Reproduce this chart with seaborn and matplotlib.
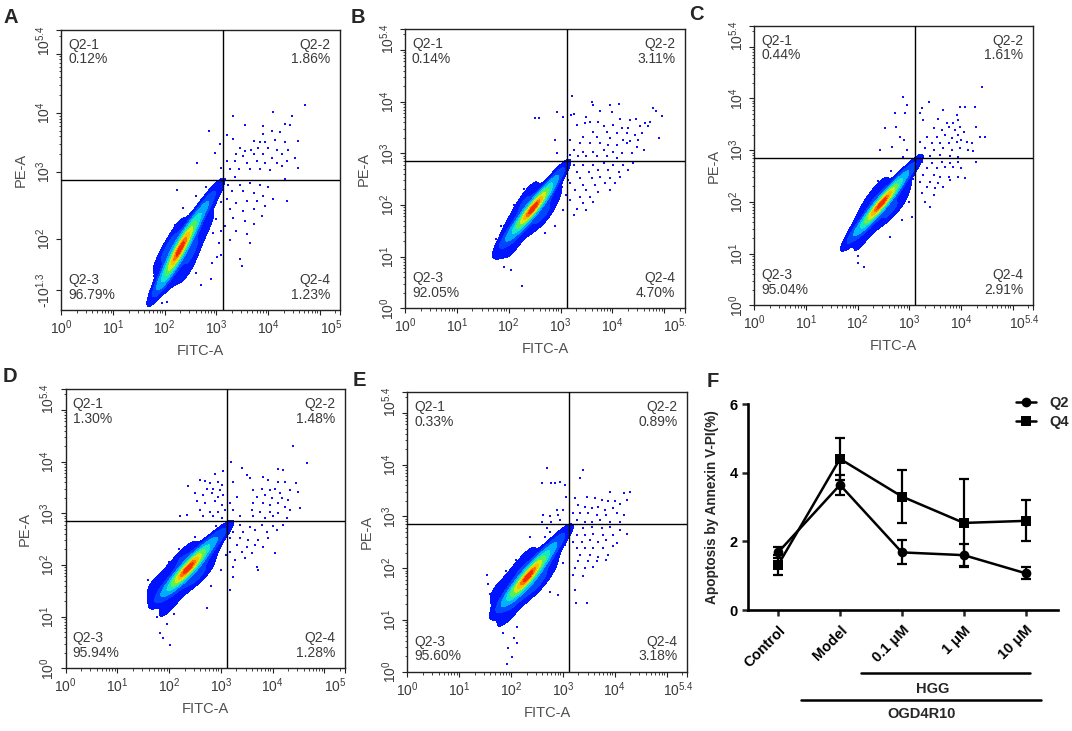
import numpy as np
import pandas as pd
import seaborn as sns
import matplotlib.pyplot as plt
from matplotlib import transforms
from matplotlib.colors import LinearSegmentedColormap
from matplotlib.lines import Line2D

sns.set_style('ticks')
plt.rcParams['font.family'] = ['Liberation Sans', 'DejaVu Sans']
plt.rcParams['mathtext.fontset'] = 'custom'
plt.rcParams['mathtext.rm'] = 'Liberation Sans'
plt.rcParams['mathtext.it'] = 'Liberation Sans:italic'
plt.rcParams['mathtext.bf'] = 'Liberation Sans:bold'

# ---- flow panels: values in log10 units ----
# core cloud (x, y, weight ~ colour density)
a_core = [(2.30, 1.70, 5), (2.35, 1.80, 4), (2.25, 1.60, 4), (2.45, 1.95, 3), (2.15, 1.45, 3),
          (2.55, 2.10, 2.5), (2.05, 1.30, 2), (2.70, 2.30, 1.5), (1.95, 1.15, 1.2), (2.80, 2.45, 1),
          (2.95, 2.60, 0.6), (1.85, 1.00, 0.6), (3.05, 2.70, 0.4), (2.50, 1.60, 1.5), (2.10, 1.75, 1.5),
          (2.70, 1.95, 0.8), (1.95, 1.55, 0.8), (2.90, 2.20, 0.4), (2.25, 2.05, 0.6), (2.45, 1.35, 0.8),
          (2.15, 1.15, 0.6)]
b_core = [(2.47, 1.94, 5), (2.40, 1.85, 4), (2.55, 2.02, 4), (2.65, 2.15, 3), (2.30, 1.75, 3),
          (2.75, 2.30, 2), (2.20, 1.60, 2), (2.90, 2.50, 1.2), (2.05, 1.45, 1.5), (3.00, 2.65, 0.6),
          (1.90, 1.30, 0.8), (1.85, 1.05, 0.4), (2.00, 0.95, 0.3), (2.60, 1.75, 1.5), (2.30, 2.05, 1.5),
          (2.15, 1.30, 1), (2.85, 2.10, 0.8), (2.40, 2.30, 0.5), (1.95, 1.60, 0.5), (2.75, 1.80, 0.5)]
c_core = [(2.46, 1.97, 5), (2.38, 1.88, 4), (2.55, 2.06, 4), (2.65, 2.20, 3), (2.28, 1.75, 3),
          (2.78, 2.35, 2), (2.15, 1.60, 2), (2.95, 2.55, 1.2), (2.00, 1.45, 1.2), (3.07, 2.68, 0.5),
          (1.88, 1.30, 0.6), (1.95, 1.00, 0.3), (2.60, 1.80, 1.5), (2.30, 2.10, 1.2), (2.15, 1.35, 0.8),
          (2.90, 2.20, 0.6), (2.45, 2.35, 0.4), (1.90, 1.60, 0.4), (2.80, 1.90, 0.5)]
d_core = [(2.37, 1.94, 5), (2.30, 1.85, 4), (2.45, 2.03, 4), (2.55, 2.15, 3), (2.20, 1.75, 3),
          (2.70, 2.30, 2), (2.05, 1.60, 2), (2.90, 2.50, 1.2), (1.90, 1.45, 1.2), (3.05, 2.65, 0.6),
          (1.75, 1.50, 0.6), (1.95, 1.10, 0.4), (1.65, 1.60, 0.3), (2.50, 1.75, 1.5), (2.20, 2.10, 1.2),
          (2.05, 1.30, 0.8), (2.80, 2.15, 0.6), (2.40, 2.35, 0.4), (1.80, 1.75, 0.4), (2.70, 1.85, 0.5)]
e_core = [(2.33, 1.84, 5), (2.25, 1.75, 4), (2.42, 1.95, 4), (2.52, 2.08, 3), (2.15, 1.62, 3),
          (2.67, 2.25, 2), (2.00, 1.50, 2), (2.85, 2.45, 1.2), (1.88, 1.35, 1.2), (3.00, 2.62, 0.6),
          (1.75, 1.50, 0.6), (1.90, 1.05, 0.5), (1.95, 0.80, 0.2), (2.45, 1.65, 1.5), (2.15, 2.00, 1.2),
          (2.05, 1.25, 0.8), (2.75, 2.05, 0.6), (2.35, 2.30, 0.4), (1.70, 1.65, 0.4), (2.65, 1.80, 0.5)]

# sparse events (x, y)
a_spray = [(4.72, 4.13), (4.10, 4.01), (4.46, 3.95), (3.32, 3.95), (3.56, 3.79), (3.91, 3.77), (4.33, 3.82),
           (4.43, 3.79), (4.07, 3.69), (3.20, 3.62), (3.91, 3.64), (4.23, 3.67), (3.33, 3.56), (3.72, 3.52),
           (3.85, 3.50), (3.94, 3.51), (4.14, 3.55), (4.33, 3.50), (4.59, 3.52), (3.07, 3.48), (3.46, 3.40),
           (3.56, 3.36), (3.68, 3.38), (3.81, 3.41), (4.01, 3.40), (4.17, 3.38), (4.39, 3.38), (2.98, 3.33),
           (3.39, 3.30), (3.52, 3.27), (3.72, 3.30), (3.91, 3.30), (4.07, 3.24), (4.27, 3.30), (4.52, 3.23),
           (3.20, 3.19), (3.36, 3.19), (3.59, 3.16), (3.78, 3.19), (3.94, 3.16), (4.17, 3.16), (4.36, 3.19),
           (4.59, 3.07), (3.10, 3.07), (3.27, 3.05), (3.43, 3.05), (3.65, 3.05), (3.85, 3.05), (4.04, 3.03),
           (4.27, 3.10), (3.36, 2.91), (3.17, 2.88), (4.33, 2.89), (3.23, 2.79), (3.46, 2.79), (3.65, 2.82),
           (3.85, 2.79), (4.01, 2.74), (3.30, 2.68), (3.52, 2.68), (3.72, 2.65), (3.91, 2.60), (4.10, 2.54),
           (4.36, 2.51), (3.20, 2.54), (3.39, 2.48), (3.59, 2.51), (3.78, 2.51), (3.94, 2.43), (3.27, 2.37),
           (3.52, 2.34), (3.72, 2.37), (3.88, 2.26), (3.33, 2.23), (3.56, 2.17), (3.72, 2.12), (3.17, 2.09),
           (3.39, 2.00), (3.59, 1.95), (3.27, 1.86), (3.65, 1.81), (3.46, 1.53), (3.49, 1.41), (2.85, 3.69),
           (2.62, 3.16), (2.23, 2.70), (2.91, 1.46), (3.01, 1.57), (2.94, 1.97), (1.85, 0.85), (1.95, 0.78),
           (2.05, 0.80), (1.75, 1.05), (1.80, 1.25), (3.10, 2.00), (3.05, 1.80), (3.10, 1.60), (2.90, 1.20),
           (2.70, 1.10), (2.60, 1.30), (1.90, 1.50), (2.05, 1.75), (2.20, 2.10), (2.35, 2.40), (2.60, 2.60),
           (2.80, 2.75), (3.08, 2.72), (3.10, 2.50), (3.00, 2.20)]
b_spray = [(3.22, 4.11), (3.60, 4.00), (3.63, 3.94), (3.95, 3.94), (4.12, 3.95), (3.76, 3.81), (3.99, 3.79),
           (3.20, 3.74), (3.25, 3.76), (2.93, 3.79), (3.05, 3.71), (3.50, 3.71), (3.57, 3.61), (3.47, 3.58),
           (3.73, 3.61), (4.15, 3.66), (4.34, 3.64), (4.46, 3.66), (4.63, 3.59), (4.73, 3.60), (4.79, 3.87),
           (4.85, 3.81), (4.95, 3.72), (3.31, 3.55), (3.83, 3.52), (4.02, 3.55), (4.18, 3.48), (4.31, 3.48),
           (4.53, 3.52), (4.69, 3.52), (3.63, 3.42), (3.89, 3.42), (4.08, 3.39), (4.28, 3.39), (4.44, 3.35),
           (4.57, 3.40), (3.44, 3.32), (3.70, 3.32), (3.95, 3.29), (4.21, 3.26), (4.34, 3.23), (4.50, 3.26),
           (4.89, 3.30), (2.89, 3.26), (3.18, 3.26), (3.38, 3.19), (3.57, 3.19), (3.76, 3.19), (3.92, 3.16),
           (4.08, 3.16), (4.28, 3.19), (4.47, 3.13), (4.60, 3.06), (3.25, 3.06), (3.44, 3.03), (3.63, 3.03),
           (3.83, 3.06), (4.02, 3.03), (4.18, 3.00), (4.37, 3.00), (2.93, 3.00), (3.18, 2.97), (3.34, 2.94),
           (3.50, 2.94), (3.70, 2.94), (3.89, 2.94), (4.08, 2.90), (3.25, 2.77), (3.44, 2.77), (3.63, 2.77),
           (3.83, 2.81), (4.02, 2.77), (4.21, 2.77), (4.40, 2.81), (3.31, 2.64), (3.54, 2.64), (3.73, 2.68),
           (3.92, 2.68), (4.12, 2.64), (4.31, 2.68), (3.38, 2.52), (3.60, 2.52), (3.76, 2.55), (3.95, 2.52),
           (4.15, 2.55), (3.18, 2.42), (3.44, 2.39), (3.67, 2.39), (3.86, 2.42), (4.05, 2.42), (3.28, 2.29),
           (3.50, 2.29), (3.73, 2.26), (3.95, 2.29), (3.38, 2.16), (3.57, 2.16), (3.18, 2.10), (3.44, 2.03),
           (3.63, 2.06), (3.31, 1.93), (3.50, 1.90), (3.25, 1.81), (2.51, 3.68), (2.58, 3.68), (2.25, 0.43),
           (1.80, 1.00), (1.90, 0.80), (2.05, 0.75), (1.75, 1.35), (1.85, 1.60), (2.10, 2.00), (2.30, 2.30),
           (3.10, 2.20), (3.05, 1.90), (2.90, 1.60), (2.70, 1.45), (3.00, 2.75), (3.05, 2.61), (3.15, 2.48),
           (3.02, 2.35)]
c_spray = [(4.40, 4.23), (3.39, 3.94), (3.24, 3.81), (3.21, 3.71), (3.65, 3.78), (3.98, 3.84), (4.08, 3.84),
           (4.27, 3.84), (3.92, 3.68), (3.56, 3.60), (3.72, 3.52), (3.85, 3.52), (3.95, 3.58), (3.27, 3.58),
           (3.47, 3.42), (3.63, 3.39), (3.76, 3.45), (3.89, 3.39), (3.98, 3.45), (4.05, 3.36), (4.30, 3.45),
           (3.53, 3.26), (3.69, 3.29), (3.82, 3.23), (3.95, 3.29), (4.01, 3.20), (4.37, 3.26), (4.47, 3.26),
           (3.34, 3.26), (3.21, 3.16), (3.43, 3.13), (3.59, 3.13), (3.76, 3.13), (3.92, 3.16), (4.11, 3.16),
           (4.21, 3.13), (3.30, 3.04), (3.47, 3.00), (3.66, 3.04), (3.82, 3.00), (3.98, 3.04), (4.14, 3.00),
           (4.24, 2.99), (3.21, 2.91), (3.40, 2.89), (3.59, 2.91), (3.79, 2.89), (3.95, 2.87), (3.24, 2.78),
           (3.43, 2.76), (3.63, 2.78), (3.79, 2.75), (3.95, 2.78), (4.30, 2.78), (3.34, 2.65), (3.53, 2.65),
           (3.69, 2.68), (3.85, 2.67), (4.01, 2.65), (3.27, 2.52), (3.47, 2.52), (3.59, 2.49), (3.76, 2.49),
           (3.95, 2.49), (4.08, 2.46), (3.21, 2.39), (3.40, 2.39), (3.56, 2.36), (3.79, 2.42), (3.34, 2.29),
           (3.50, 2.26), (3.66, 2.29), (3.24, 2.17), (3.47, 2.13), (3.30, 2.00), (3.40, 1.91), (2.95, 3.87),
           (2.92, 3.71), (2.89, 3.20), (2.95, 3.00), (2.87, 4.02), (2.72, 3.71), (2.53, 3.42), (2.75, 3.45),
           (2.82, 3.26), (2.43, 3.00), (2.66, 3.07), (2.88, 2.87), (3.06, 1.71), (2.63, 1.33), (2.13, 0.75),
           (2.01, 0.82), (1.79, 1.13), (1.85, 1.50), (1.80, 1.25), (2.00, 0.95), (2.20, 2.05), (2.40, 2.40),
           (2.65, 2.60), (3.08, 2.45), (3.00, 2.00), (2.85, 1.65)]
d_spray = [(4.66, 3.97), (3.19, 4.00), (3.40, 3.87), (4.11, 3.86), (4.21, 3.84), (3.05, 3.81), (2.89, 3.77),
           (3.50, 3.74), (3.81, 3.71), (3.24, 3.61), (3.56, 3.68), (3.92, 3.64), (4.11, 3.61), (4.24, 3.61),
           (4.45, 3.59), (2.69, 3.63), (2.79, 3.58), (2.95, 3.61), (3.02, 3.55), (2.73, 3.48), (2.85, 3.48),
           (2.98, 3.45), (3.63, 3.45), (3.79, 3.48), (3.95, 3.45), (4.05, 3.48), (4.14, 3.39), (4.34, 3.45),
           (4.50, 3.42), (2.50, 3.39), (2.66, 3.35), (2.82, 3.39), (2.95, 3.32), (3.05, 3.35), (3.31, 3.32),
           (3.69, 3.32), (3.85, 3.35), (3.98, 3.29), (4.18, 3.29), (4.30, 3.26), (2.53, 3.23), (2.69, 3.19),
           (2.89, 3.23), (3.02, 3.16), (3.18, 3.19), (3.63, 3.19), (3.82, 3.19), (3.95, 3.16), (4.11, 3.19),
           (4.24, 3.13), (4.53, 3.10), (2.60, 3.06), (2.79, 3.03), (2.95, 3.03), (3.08, 3.06), (3.24, 3.06),
           (3.60, 3.06), (3.76, 3.03), (3.95, 3.03), (4.11, 3.00), (4.34, 3.06), (2.66, 2.94), (2.85, 2.94),
           (3.02, 2.90), (3.37, 2.94), (3.63, 2.94), (3.85, 2.90), (4.01, 2.94), (4.27, 2.90), (3.21, 2.77),
           (3.37, 2.77), (3.56, 2.74), (3.79, 2.77), (4.01, 2.75), (4.21, 2.77), (3.24, 2.64), (3.43, 2.64),
           (3.66, 2.68), (3.89, 2.64), (4.08, 2.68), (3.18, 2.52), (3.37, 2.52), (3.53, 2.48), (3.72, 2.48),
           (3.92, 2.52), (3.31, 2.39), (3.50, 2.35), (3.66, 2.39), (3.82, 2.35), (3.18, 2.26), (3.40, 2.26),
           (3.60, 2.23), (4.05, 2.23), (3.27, 2.10), (3.47, 2.13), (3.24, 1.97), (3.69, 1.97), (3.72, 1.90),
           (3.24, 1.77), (3.18, 1.52), (4.40, 4.30), (2.37, 3.52), (2.60, 3.65), (2.34, 2.97), (2.21, 2.95),
           (2.73, 1.16), (1.82, 0.68), (1.89, 0.58), (2.02, 0.45), (1.76, 1.00), (1.60, 1.70), (1.65, 1.40),
           (1.75, 1.20), (1.95, 0.85), (2.10, 1.05), (2.00, 2.05), (2.20, 2.30), (2.50, 2.55), (2.90, 2.75),
           (3.10, 2.20), (3.00, 1.90), (2.80, 1.60)]
e_spray = [(2.69, 3.93), (3.38, 3.90), (3.33, 3.74), (2.59, 3.65), (2.78, 3.65), (2.85, 3.64), (2.94, 3.67),
           (3.04, 3.61), (3.91, 3.48), (4.29, 3.47), (4.17, 3.45), (3.07, 3.38), (3.23, 3.35), (3.46, 3.38),
           (3.62, 3.35), (3.75, 3.32), (3.88, 3.29), (4.01, 3.29), (4.10, 3.25), (4.23, 3.32), (3.30, 3.22),
           (3.43, 3.19), (3.56, 3.16), (3.68, 3.19), (3.81, 3.13), (3.97, 3.16), (2.88, 3.13), (3.01, 3.13),
           (2.62, 3.03), (2.75, 3.00), (2.91, 3.03), (3.20, 3.06), (3.33, 3.06), (3.49, 3.06), (3.65, 3.03),
           (3.84, 3.03), (4.04, 3.06), (4.17, 3.03), (2.59, 2.90), (2.78, 2.90), (2.94, 2.93), (3.27, 2.93),
           (3.43, 2.90), (3.56, 2.90), (3.72, 2.93), (3.91, 2.90), (4.10, 2.90), (2.69, 2.77), (3.01, 2.77),
           (3.20, 2.80), (3.39, 2.77), (3.56, 2.80), (3.75, 2.77), (3.91, 2.80), (4.23, 2.67), (4.10, 2.74),
           (3.27, 2.64), (3.43, 2.64), (3.59, 2.67), (3.78, 2.64), (3.97, 2.64), (3.20, 2.51), (3.36, 2.51),
           (3.52, 2.55), (3.68, 2.51), (3.84, 2.55), (4.04, 2.48), (3.27, 2.39), (3.43, 2.39), (3.59, 2.39),
           (3.78, 2.39), (3.97, 2.42), (3.33, 2.26), (3.52, 2.26), (3.68, 2.22), (3.88, 2.26), (3.30, 2.13),
           (3.49, 2.13), (3.65, 2.13), (3.84, 2.16), (3.23, 2.00), (3.43, 2.00), (3.59, 2.03), (3.20, 1.87),
           (3.39, 1.84), (3.23, 1.58), (2.91, 1.48), (2.66, 2.61), (2.56, 2.22), (3.46, 1.32), (3.26, 1.32),
           (2.11, 0.55), (2.01, 0.29), (1.92, 0.15), (1.53, 1.87), (1.85, 0.74), (2.11, 0.87), (2.37, 2.61),
           (1.95, 0.45), (2.05, 0.65), (1.80, 1.00), (1.60, 1.50), (1.55, 1.70), (1.90, 1.95), (2.10, 2.15),
           (2.40, 2.40), (2.75, 2.70), (3.05, 2.45), (3.00, 2.10), (2.75, 1.55)]

# quadrant gates (x, y) and percentages Q2-1, Q2-2, Q2-3, Q2-4
a_gate, b_gate, c_gate, d_gate, e_gate = (3.12, 2.86), (3.12, 2.85), (3.11, 2.84), (3.11, 2.845), (3.12, 2.855)
a_pct = ['0.12%', '1.86%', '96.79%', '1.23%']
b_pct = ['0.14%', '3.11%', '92.05%', '4.70%']
c_pct = ['0.44%', '1.61%', '95.04%', '2.91%']
d_pct = ['1.30%', '1.48%', '95.94%', '1.28%']
e_pct = ['0.33%', '0.89%', '95.60%', '3.18%']
x_end_labels = ['$10^{5}$', '$10^{5.}$', '$10^{5.4}$', '$10^{5}$', '$10^{5.4}$']

# ---- panel F ----
groups = ['Control', 'Model', '0.1 μM', '1 μM', '10 μM']
q2_mean = [1.68, 3.65, 1.68, 1.60, 1.07]
q2_err = [0.17, 0.29, 0.35, 0.33, 0.17]
q4_mean = [1.31, 4.41, 3.31, 2.54, 2.60]
q4_err = [0.29, 0.62, 0.76, 1.28, 0.60]

flow_cmap = LinearSegmentedColormap.from_list(
    'flow', ['#0000ff', '#0050ff', '#00b8ff', '#10e8d0', '#40f060', '#c0f020', '#f8e000', '#ff8000', '#f01000'])
grey_txt = '#3a3a3a'

fig = plt.figure(figsize=(10.72, 7.31), dpi=100)
W, H = 1072, 731


def px_axes(l, t, r, b):
    return fig.add_axes([l / W, 1 - b / H, (r - l) / W, (b - t) / H])


def draw_flow(ax, core, spray, gate, pct, xend, ylow=0.0, biexp=False):
    cx, cy, cw = zip(*core)
    sx, sy = zip(*spray)
    ax.scatter(sx, sy, s=4, marker='s', color='#1010ff', linewidths=0, zorder=1)
    sns.kdeplot(x=list(cx), y=list(cy), weights=list(cw), fill=True, cmap=flow_cmap,
                levels=[0.06, 0.2, 0.34, 0.48, 0.6, 0.71, 0.81, 0.89, 0.95, 1.0],
                bw_adjust=1.0, cut=6, gridsize=160, ax=ax, zorder=2)
    ax.axvline(gate[0], color='black', lw=1, zorder=3)
    ax.axhline(gate[1], color='black', lw=1, zorder=3)
    ax.set_xlim(0, 5.4)
    ax.set_ylim(ylow, 5.4)
    for s in ax.spines.values():
        s.set_linewidth(1)
        s.set_color('#222222')
    minor = [d + np.log10(k) for d in range(6) for k in range(2, 10) if d + np.log10(k) < 5.4]
    ax.set_xticks([0, 1, 2, 3, 4, 5, 5.4], ['$10^{0}$', '$10^{1}$', '$10^{2}$', '$10^{3}$', '$10^{4}$', '', ''])
    ax.set_xticks(minor, minor=True)
    if biexp:
        ax.set_yticks([1.0, 1.87, 3, 4, 5, 5.4], ['-$10^{1.3}$', '$10^{2}$', '$10^{3}$', '$10^{4}$', '', ''],
                      rotation=90, va='center')
        ax.set_yticks([m for m in minor if m > 3], minor=True)
    else:
        ax.set_yticks([0, 1, 2, 3, 4, 5, 5.4], ['$10^{0}$', '$10^{1}$', '$10^{2}$', '$10^{3}$', '$10^{4}$', '', ''],
                      rotation=90, va='center')
        ax.set_yticks(minor, minor=True)
    ax.tick_params(which='major', direction='out', length=3.6, width=0.8, pad=2.5,
                   labelsize=10, labelcolor=grey_txt, color='#222222')
    ax.tick_params(which='minor', direction='out', length=1.8, width=0.6, color='#222222')
    ax.annotate(xend, xy=(5.22, 0), xycoords=('data', 'axes fraction'), xytext=(0, -6.1),
                textcoords='offset points', ha='center', va='top', fontsize=10, color=grey_txt)
    ax.annotate('$10^{5.4}$', xy=(0, 5.22), xycoords=('axes fraction', 'data'), xytext=(-6.1, 0),
                textcoords='offset points', ha='right', va='center', rotation=90, fontsize=10, color=grey_txt)
    ax.set_xlabel('FITC-A', fontsize=10.5, color='#505050', labelpad=5)
    ax.set_ylabel('PE-A', fontsize=10.5, color='#505050', labelpad=5)
    kw = dict(transform=ax.transAxes, fontsize=10, color=grey_txt, linespacing=1.05)
    ax.text(0.025, 0.972, 'Q2-1\n' + pct[0], ha='left', va='top', **kw)
    ax.text(0.965, 0.972, 'Q2-2\n' + pct[1], ha='right', va='top', **kw)
    ax.text(0.025, 0.03, 'Q2-3\n' + pct[2], ha='left', va='bottom', **kw)
    ax.text(0.965, 0.03, 'Q2-4\n' + pct[3], ha='right', va='bottom', **kw)


axA = px_axes(61.3, 30, 340.3, 310)
axB = px_axes(405, 29.3, 685, 308.3)
axC = px_axes(754.3, 26, 1033.3, 305.3)
axD = px_axes(65.7, 389.3, 345, 668.3)
axE = px_axes(407.3, 392.3, 687.3, 671.7)
axF = px_axes(748.3, 404.3, 1058, 610)

draw_flow(axA, a_core, a_spray, a_gate, a_pct, x_end_labels[0], ylow=0.67, biexp=True)
draw_flow(axB, b_core, b_spray, b_gate, b_pct, x_end_labels[1])
draw_flow(axC, c_core, c_spray, c_gate, c_pct, x_end_labels[2])
draw_flow(axD, d_core, d_spray, d_gate, d_pct, x_end_labels[3])
draw_flow(axE, e_core, e_spray, e_gate, e_pct, x_end_labels[4])

# ---- panel F: line chart with error bars ----
pos = np.arange(len(groups))
df = pd.DataFrame({'pos': np.concatenate([pos, pos]),
                   'value': q2_mean + q4_mean,
                   'series': ['Q2'] * len(groups) + ['Q4'] * len(groups)})
sns.lineplot(data=df, x='pos', y='value', style='series', markers={'Q2': 'o', 'Q4': 's'},
             dashes=False, color='black', linewidth=1.8, markersize=7, markeredgewidth=0,
             legend=False, ax=axF, zorder=3)
axF.errorbar(pos, q2_mean, yerr=q2_err, fmt='none', ecolor='black', elinewidth=1.6, capsize=3.8, capthick=1.6)
axF.errorbar(pos, q4_mean, yerr=q4_err, fmt='none', ecolor='black', elinewidth=1.6, capsize=3.8, capthick=1.6)
axF.set_xlim(-0.48, 4.52)
axF.set_ylim(0, 6)
axF.set_yticks([0, 2, 4, 6])
axF.set_xticks(pos)
axF.set_xticklabels(groups, rotation=45, ha='right', rotation_mode='anchor', fontweight='bold', fontsize=10.5)
for lab in axF.get_yticklabels():
    lab.set_fontweight('bold')
axF.tick_params(axis='both', direction='out', length=4.5, width=1.8, labelsize=10.5, labelcolor='black', pad=3)
axF.tick_params(axis='x', pad=5)
sns.despine(ax=axF)
for s in ['left', 'bottom']:
    axF.spines[s].set_linewidth(1.9)
    axF.spines[s].set_color('black')
axF.set_xlabel('')
axF.set_ylabel('Apoptosis by Annexin V-PI(%)', fontsize=9.8, fontweight='bold', labelpad=8)

blend = transforms.blended_transform_factory(axF.transData, axF.transAxes)
axF.plot([1.345, 4.06], [-0.308, -0.308], transform=blend, clip_on=False, color='black', lw=1.8)
axF.text(2.49, -0.386, 'HGG', transform=blend, ha='center', va='center', fontsize=10.5, fontweight='bold')
axF.plot([0.366, 4.25], [-0.4375, -0.4375], transform=blend, clip_on=False, color='black', lw=1.8)
axF.text(2.32, -0.506, 'OGD4R10', transform=blend, ha='center', va='center', fontsize=10.5, fontweight='bold')

handles = [Line2D([], [], color='black', marker='o', lw=1.8, ms=7, mew=0),
           Line2D([], [], color='black', marker='s', lw=1.8, ms=7, mew=0)]
axF.legend(handles, ['Q2', 'Q4'], loc='upper left', bbox_to_anchor=(1016 / W, 1 - 396 / H),
           bbox_transform=fig.transFigure, frameon=False, handlelength=1.4, handletextpad=0.9,
           borderaxespad=0, borderpad=0, labelspacing=0.35, prop=dict(weight='bold', size=10.5))

# panel letters
for letter, (x, y) in zip('ABCDEF', [(3, 8), (351, 8), (689, 5), (3, 367), (353, 371), (707, 372)]):
    fig.text(x / W, 1 - y / H, letter, fontsize=14.5, fontweight='bold', ha='left', va='top')

fig.savefig('out.png', dpi=100)
